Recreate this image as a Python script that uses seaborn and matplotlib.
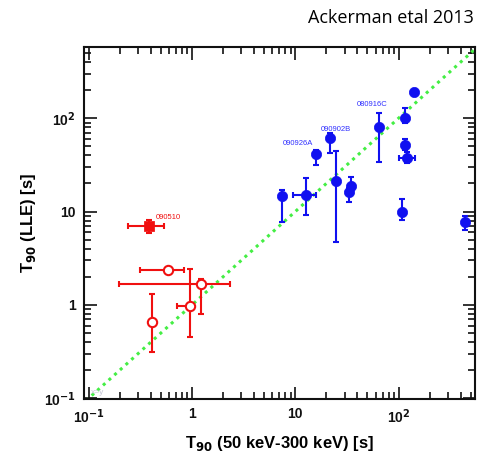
import numpy as np
import pandas as pd
import seaborn as sns
import matplotlib.pyplot as plt
from matplotlib.ticker import LogLocator, FixedLocator, FixedFormatter, NullFormatter

# blue LAT bursts (x = GBM T90, y = LLE T90)
blue_x = [7.4, 12.8, 15.9, 21.7, 24.6, 35.0, 33.5, 64.0, 140.0, 116.0, 116.0, 122.0, 109.0, 443.0]
blue_y = [14.7, 15.0, 41.5, 62.0, 21.0, 19.0, 16.4, 81.5, 189.0, 101.0, 51.9, 37.9, 9.85, 7.8]
blue_ylo = [7.8, 9.2, 31.6, 42.9, 4.77, 17.0, 12.8, 34.3, 189.0, 90.0, 45.8, 33.0, 8.1, 6.4]
blue_yhi = [17.1, 22.8, 45.8, 69.0, 44.8, 23.7, 18.0, 115.0, 189.0, 128.0, 60.0, 44.0, 13.7, 9.0]
blue_xlo = [7.4, 9.6, 15.9, 21.7, 24.6, 35.0, 33.5, 64.0, 140.0, 116.0, 116.0, 102.0, 109.0, 443.0]
blue_xhi = [7.4, 16.0, 15.9, 21.7, 24.6, 35.0, 33.5, 64.0, 140.0, 116.0, 116.0, 143.0, 109.0, 443.0]

# short burst 090510 (filled) and other short bursts (open)
red_x = [0.38]
red_y = [7.08]
red_xlo = [0.24]
red_xhi = [0.53]
red_ylo = [5.96]
red_yhi = [8.1]

open_x = [0.586, 1.22, 0.96, 0.41]
open_y = [2.39, 1.67, 0.975, 0.66]
open_xlo = [0.316, 0.195, 0.72, 0.41]
open_xhi = [0.83, 2.31, 0.96, 0.41]
open_ylo = [2.39, 0.80, 0.45, 0.31]
open_yhi = [2.39, 1.9, 2.43, 1.30]

labels = ["090926A", "090902B", "080916C"]
label_x = [7.6, 17.7, 39.6]
label_y = [54, 76, 141.6]

blue = "#1010f0"
red = "#f01010"

sns.set_style("ticks")
plt.rcParams['font.family'] = ['Liberation Sans', 'DejaVu Sans']
plt.rcParams['text.color'] = 'black'
plt.rcParams['axes.labelcolor'] = 'black'

fig = plt.figure(figsize=(4.79, 4.54), dpi=100)
ax = fig.add_axes([0.1754, 0.1211, 0.9916 - 0.1754, 0.8965 - 0.1211])
ax.set_xscale("log")
ax.set_yscale("log")
xlim = (0.09, 550)
ylim = (0.098, 580)

# y = x line
line = np.array([0.05, 1000])
ax.plot(line, line, ls=(0, (1, 1.5)), color="#44ee44", lw=2.2, zorder=1)

def ebars(x, y, xlo, xhi, ylo, yhi, col):
    x, y = np.array(x), np.array(y)
    xerr = [x - np.array(xlo), np.array(xhi) - x]
    yerr = [y - np.array(ylo), np.array(yhi) - y]
    ax.errorbar(x, y, xerr=xerr, yerr=yerr, fmt="none", ecolor=col,
                elinewidth=1.5, capsize=2.5, capthick=1.5, zorder=2)

ebars(blue_x, blue_y, blue_xlo, blue_xhi, blue_ylo, blue_yhi, blue)
ebars(red_x, red_y, red_xlo, red_xhi, red_ylo, red_yhi, red)
ebars(open_x, open_y, open_xlo, open_xhi, open_ylo, open_yhi, red)

bdf = pd.DataFrame({"x": blue_x, "y": blue_y})
sns.scatterplot(data=bdf, x="x", y="y", ax=ax, color=blue, s=55, edgecolor=blue, linewidth=0.5, zorder=3)
rdf = pd.DataFrame({"x": red_x, "y": red_y})
sns.scatterplot(data=rdf, x="x", y="y", ax=ax, color=red, marker="s", s=45, edgecolor=red, zorder=3)
odf = pd.DataFrame({"x": open_x, "y": open_y})
sns.scatterplot(data=odf, x="x", y="y", ax=ax, color="white", s=45, edgecolor=red, linewidth=1.5, zorder=3)

for t, lx, ly in zip(labels, label_x, label_y):
    ax.text(lx, ly, t, color="#3030ff", fontsize=5.5, va="center", ha="left")
ax.text(0.45, 8.6, "090510", color=red, fontsize=5.5, va="center", ha="left")
ax.text(0.105, 0.115, "x=y", color="#c8c8d8", fontsize=6, va="center", ha="left")

ax.set_xlim(*xlim)
ax.set_ylim(*ylim)

ticks = [0.1, 1, 10, 100]
ticklabels = ["10$^{\\mathbf{-1}}$", "1", "10", "10$^{\\mathbf{2}}$"]
ax.xaxis.set_major_locator(FixedLocator(ticks))
ax.xaxis.set_major_formatter(FixedFormatter(ticklabels))
ax.yaxis.set_major_locator(FixedLocator(ticks))
ax.yaxis.set_major_formatter(FixedFormatter(ticklabels))
ax.xaxis.set_minor_locator(LogLocator(base=10, subs=np.arange(2, 10), numticks=20))
ax.yaxis.set_minor_locator(LogLocator(base=10, subs=np.arange(2, 10), numticks=20))
ax.xaxis.set_minor_formatter(NullFormatter())
ax.yaxis.set_minor_formatter(NullFormatter())
ax.tick_params(which="both", direction="in", top=True, right=True, width=1.2, colors="#111111")
ax.tick_params(which="major", length=9, labelsize=10, pad=6)
ax.tick_params(which="minor", length=5)
for lab in ax.get_xticklabels() + ax.get_yticklabels():
    lab.set_fontweight("bold")
for s in ax.spines.values():
    s.set_linewidth(1.5)
    s.set_color("#111111")

ax.set_xlabel("T$_{\\mathbf{90}}$ (50 keV-300 keV) [s]", fontsize=12, fontweight="bold", labelpad=6)
ax.set_ylabel("T$_{\\mathbf{90}}$ (LLE) [s]", fontsize=12, fontweight="bold", labelpad=4)

fig.text(0.99, 0.96, "Ackerman etal 2013", fontsize=13, family="Open Sans", color="black",
         ha="right", va="center")

fig.savefig("out.png", dpi=100)
